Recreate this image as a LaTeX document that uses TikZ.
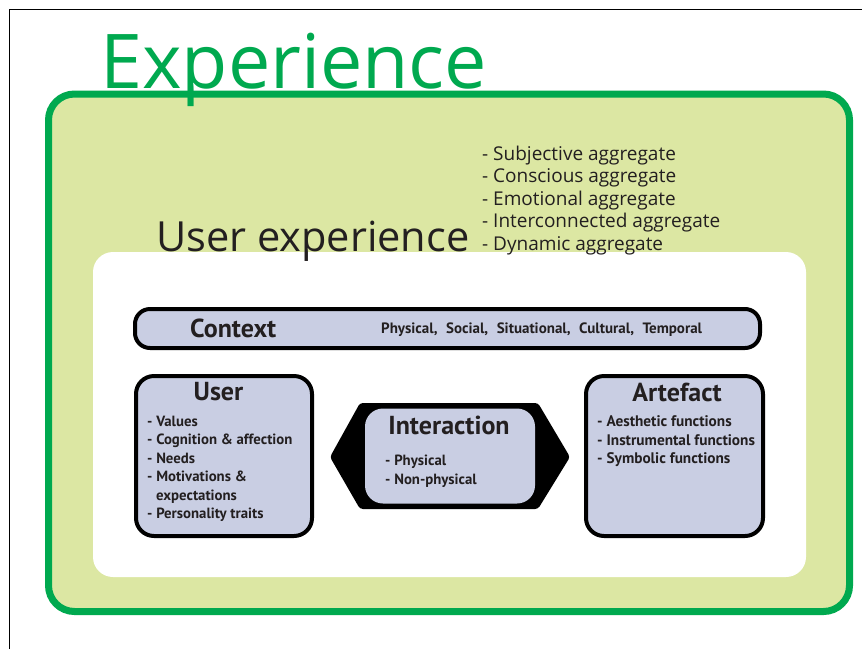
\documentclass[tikz,border=0pt]{standalone}
\usepackage{fontspec}
\newfontfamily\bigf{Open Sans}
\newfontfamily\boxf{PT Sans}
\definecolor{ugreen}{HTML}{00A94F}
\definecolor{ulight}{HTML}{DCE7A3}
\definecolor{ulav}{HTML}{C9CEE3}
\definecolor{udark}{HTML}{231F20}
\tikzset{
  lavbox/.style={draw=black, fill=ulav, line width=4pt, rectangle, inner sep=0pt},
  bigtitle/.style={anchor=base west, inner sep=0pt, text=ugreen, font=\bigf\fontsize{75.5}{80}\selectfont},
  uxtitle/.style={anchor=base west, inner sep=0pt, text=udark, font=\bigf\fontsize{41.5}{46}\selectfont},
  uxitem/.style={anchor=base west, inner sep=0pt, text=udark, font=\bigf\fontsize{19}{22}\selectfont},
  boxhead/.style={anchor=base, inner sep=0pt, text=udark, font=\boxf\bfseries\fontsize{26}{28}\selectfont},
  boxitem/.style={anchor=base west, inner sep=0pt, text=udark, font=\boxf\bfseries\fontsize{14.8}{17}\selectfont},
}
\begin{document}
\begin{tikzpicture}[x=1pt,y=-1pt]
\useasboundingbox (0,0) rectangle (862,649);
\fill[white] (0,0) rectangle (862,649);
\draw[line width=1.5pt] (9.5,649) -- (9.5,9.5) -- (862,9.5);
% outer experience box
\draw[ugreen, line width=7pt, fill=ulight, rounded corners=26pt] (48.5,94) rectangle (849.5,611.5);
\node[bigtitle] (exp) at (100,88) {Experience};
% user experience area
\fill[white, rounded corners=20pt] (93,252) rectangle (806,577);
\node[uxtitle] (ux) at (156,251) {User experience};
\node[uxitem] (ux1) at (482,160) {- Subjective aggregate};
\node[uxitem] (ux2) at (482,182.5) {- Conscious aggregate};
\node[uxitem] (ux3) at (482,205) {- Emotional aggregate};
\node[uxitem] (ux4) at (482,227.5) {- Interconnected aggregate};
\node[uxitem] (ux5) at (482,250) {- Dynamic aggregate};
% context
\node[lavbox, rounded corners=15pt, minimum width=625pt, minimum height=39pt] (context) at (447.5,328.5) {};
\node[boxhead, anchor=base west] (ctxh) at (190,337) {Context};
\node[boxitem, font=\boxf\bfseries\fontsize{15}{17}\selectfont] (ctxi) at (381,333.5) {Physical,\hspace{8.5pt}Social,\hspace{8.5pt}Situational,\hspace{8.5pt}Cultural,\hspace{8.5pt}Temporal};
% user
\node[lavbox, rounded corners=18pt, minimum width=176pt, minimum height=160pt] (user) at (224,456) {};
\node[boxhead] (userh) at (218.5,400) {User};
\node[boxitem] (u1) at (147,426) {- Values};
\node[boxitem] (u2) at (147,444.5) {- Cognition \& affection};
\node[boxitem] (u3) at (147,463) {- Needs};
\node[boxitem] (u4) at (147,481.5) {- Motivations \&};
\node[boxitem] (u5) at (156,500) {expectations};
\node[boxitem] (u6) at (147,518.5) {- Personality traits};
% interaction
\fill[black, rounded corners=3pt] (360,403) -- (538,403) -- (570,457) -- (538,509) -- (360,509) -- (330,457) -- cycle;
\node[fill=ulav, rounded corners=18pt, minimum width=170pt, minimum height=95pt, inner sep=0pt] (inter) at (450,456) {};
\node[boxhead] (interh) at (449,434) {Interaction};
\node[boxitem] (i1) at (385,465.5) {- Physical};
\node[boxitem] (i2) at (385,484) {- Non-physical};
% artefact
\node[lavbox, rounded corners=18pt, minimum width=177pt, minimum height=160pt] (art) at (674.5,456) {};
\node[boxhead] (arth) at (677,401) {Artefact};
\node[boxitem, font=\boxf\bfseries\fontsize{15.3}{17}\selectfont] (a1) at (597,426.5) {- Aesthetic functions};
\node[boxitem, font=\boxf\bfseries\fontsize{15.3}{17}\selectfont] (a2) at (597,445) {- Instrumental functions};
\node[boxitem, font=\boxf\bfseries\fontsize{15.3}{17}\selectfont] (a3) at (597,463.5) {- Symbolic functions};
\end{tikzpicture}
\end{document}
